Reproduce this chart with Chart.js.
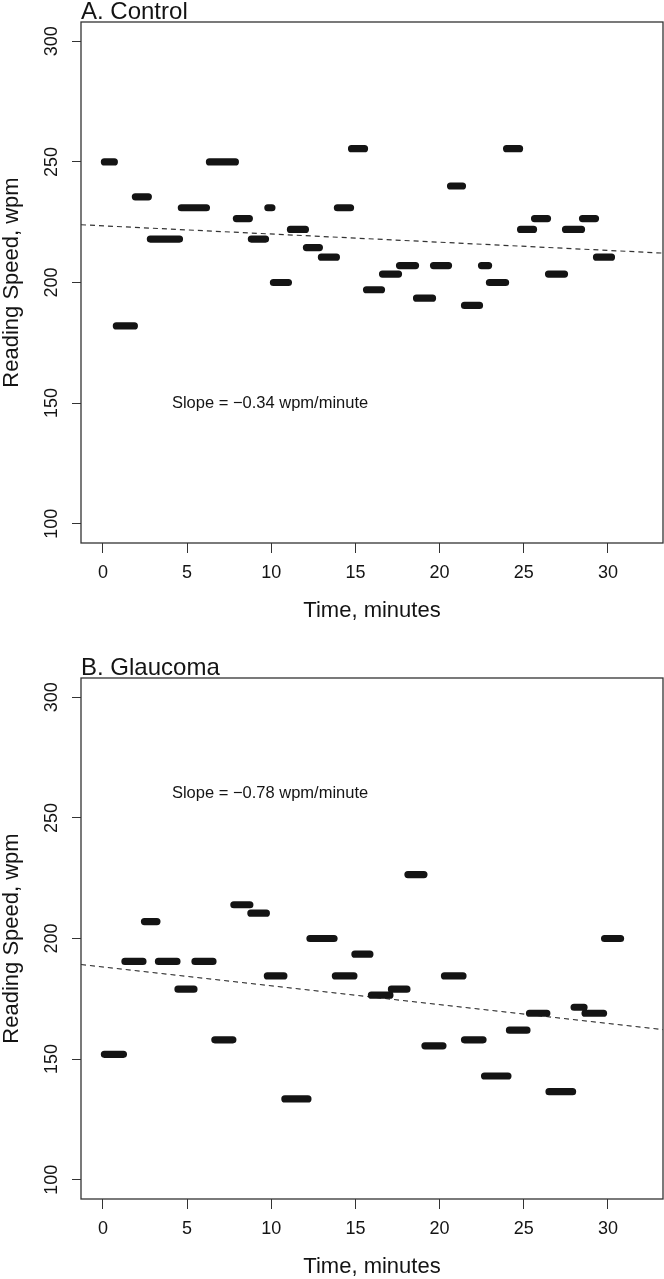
<!DOCTYPE html>
<html>
<head>
<meta charset="utf-8">
<title>Reading speed over time</title>
<script src="https://cdn.jsdelivr.net/npm/chart.js@4.4.1/dist/chart.umd.min.js"></script>
<style>
  body { margin: 0; background: #fff; }
  .panel { position: absolute; left: 0; width: 664px; height: 640px; }
  #panelA { top: 0; }
  #panelB { top: 639px; }
</style>
</head>
<body>
<div class="panel" id="panelA"><canvas id="chartA" width="664" height="640"></canvas></div>
<div class="panel" id="panelB"><canvas id="chartB" width="664" height="640"></canvas></div>
<script>
const FONT = "'Liberation Sans', Arial, Helvetica, sans-serif";
const INK = "#141414";

// axes
const X_TICKS = [0, 5, 10, 15, 20, 25, 30];
const Y_TICKS = [100, 150, 200, 250, 300];
const X_MIN = -1.3;
const X_MAX = 33.27;
const Y_MIN = 92;
const Y_MAX = 308;

// A. Control: one run per passage (start / end minute, wpm)
const ctrlStart = [0.09, 0.80, 1.93, 2.82, 4.66, 6.33, 7.93, 8.82, 9.80, 10.13, 11.14, 12.09, 12.98, 13.93, 14.77, 15.66, 16.61, 17.62, 18.63, 19.64, 20.65, 21.48, 22.49, 22.96, 23.98, 24.81, 25.64, 26.47, 27.48, 28.49, 29.32];
const ctrlEnd = [0.68, 1.87, 2.70, 4.55, 6.15, 7.87, 8.70, 9.66, 10.04, 11.02, 12.03, 12.86, 13.87, 14.71, 15.54, 16.55, 17.56, 18.57, 19.58, 20.53, 21.36, 22.37, 22.91, 23.92, 24.75, 25.58, 26.41, 27.42, 28.43, 29.26, 30.21];
const ctrlSpeed = [250, 182, 235.5, 218, 231, 250, 226.5, 218, 231, 200, 222, 214.5, 210.5, 231, 255.5, 197, 203.5, 207, 193.5, 207, 240, 190.5, 207, 200, 255.5, 222, 226.5, 203.5, 222, 226.5, 210.5];

// B. Glaucoma
const glauStart = [0.09, 1.31, 2.47, 3.30, 4.46, 5.47, 6.65, 7.78, 8.79, 9.77, 10.81, 12.30, 13.81, 14.97, 15.95, 17.14, 18.12, 19.13, 20.29, 21.48, 22.67, 24.15, 25.34, 26.50, 27.99, 28.64, 29.80];
const glauEnd = [1.22, 2.38, 3.21, 4.40, 5.41, 6.54, 7.72, 8.73, 9.71, 10.75, 12.18, 13.73, 14.91, 15.86, 17.05, 18.06, 19.07, 20.20, 21.39, 22.58, 24.06, 25.19, 26.37, 27.90, 28.58, 29.74, 30.75];
const glauSpeed = [152, 190.5, 207, 190.5, 179, 190.5, 158, 214, 210.5, 184.5, 133.5, 200, 184.5, 193.5, 176.5, 179, 226.5, 155.5, 184.5, 158, 143, 162, 169, 136.5, 171.5, 169, 200];

// regression lines (control, glaucoma)
const FIT_INTERCEPT = [223.5, 188.2];
const FIT_SLOPE = [-0.34, -0.78];

const PANEL_TITLES = ["A. Control", "B. Glaucoma"];
const SLOPE_TEXT = ["Slope = \u22120.34 wpm/minute", "Slope = \u22120.78 wpm/minute"];
const SLOPE_AT = [[4.1, 150], [4.1, 260]];

function segmentPoints(starts, ends, speeds) {
  const pts = [];
  speeds.forEach((v, i) => {
    // null y breaks the line between runs
    pts.push({ x: starts[i], y: v }, { x: ends[i], y: v }, { x: ends[i], y: null });
  });
  return pts;
}

function fitPoints(i) {
  return [X_MIN, X_MAX].map((x) => ({ x: x, y: FIT_INTERCEPT[i] + FIT_SLOPE[i] * x }));
}

// box round the plot, panel title and slope note
const frame = {
  id: "frame",
  afterDraw(chart, args, opts) {
    const { ctx, chartArea: a, scales } = chart;
    ctx.save();
    ctx.strokeStyle = "#333";
    ctx.lineWidth = 1.3;
    ctx.strokeRect(a.left, a.top, a.width, a.height);

    ctx.fillStyle = INK;
    ctx.textAlign = "left";
    ctx.textBaseline = "alphabetic";
    ctx.font = "24px " + FONT;
    ctx.fillText(opts.title, a.left, a.top - 3);

    ctx.textBaseline = "middle";
    ctx.font = "16.5px " + FONT;
    ctx.fillText(opts.note, scales.x.getPixelForValue(opts.at[0]), scales.y.getPixelForValue(opts.at[1]));
    ctx.restore();
  },
};

function makePanel(canvasId, i, starts, ends, speeds, topPad, xAxisHeight, xTitlePad) {
  const ctx = document.getElementById(canvasId);
  return new Chart(ctx, {
    type: "scatter",
    data: {
      datasets: [
        {
          data: segmentPoints(starts, ends, speeds),
          showLine: true,
          spanGaps: false,
          borderColor: INK,
          borderWidth: 7.2,
          borderCapStyle: "round",
          borderJoinStyle: "round",
          pointRadius: 0,
        },
        {
          data: fitPoints(i),
          showLine: true,
          borderColor: "#333",
          borderWidth: 1.2,
          borderDash: [5, 4],
          pointRadius: 0,
        },
      ],
    },
    options: {
      responsive: false,
      animation: false,
      layout: { padding: { top: topPad, right: 1, left: 0, bottom: 0 } },
      plugins: {
        legend: { display: false },
        tooltip: { enabled: false },
        frame: { title: PANEL_TITLES[i], note: SLOPE_TEXT[i], at: SLOPE_AT[i] },
      },
      scales: {
        x: {
          type: "linear",
          min: X_MIN,
          max: X_MAX,
          afterBuildTicks: (scale) => {
            scale.ticks = X_TICKS.map((v) => ({ value: v }));
          },
          afterFit: (scale) => {
            scale.height = xAxisHeight;
          },
          border: { display: false },
          grid: { drawOnChartArea: false, drawTicks: true, tickLength: 10, color: "#333", lineWidth: 1 },
          ticks: {
            autoSkip: false,
            maxRotation: 0,
            padding: 9,
            color: INK,
            font: { family: FONT, size: 18 },
            callback: (v) => String(v),
          },
          title: {
            display: true,
            text: "Time, minutes",
            color: INK,
            font: { family: FONT, size: 22, lineHeight: 1 },
            padding: { top: 0, bottom: xTitlePad },
          },
        },
        y: {
          type: "linear",
          min: Y_MIN,
          max: Y_MAX,
          afterBuildTicks: (scale) => {
            scale.ticks = Y_TICKS.map((v) => ({ value: v }));
          },
          afterFit: (scale) => {
            scale.width = 81;
          },
          border: { display: false },
          grid: { drawOnChartArea: false, drawTicks: true, tickLength: 9, color: "#333", lineWidth: 1 },
          ticks: {
            autoSkip: false,
            minRotation: 90,
            maxRotation: 90,
            crossAlign: "center",
            padding: 4.5,
            color: INK,
            font: { family: FONT, size: 18 },
            callback: (v) => String(v),
          },
          title: {
            display: true,
            text: "Reading Speed, wpm",
            color: INK,
            font: { family: FONT, size: 22, lineHeight: 1 },
            padding: { top: 1, bottom: 0 },
          },
        },
      },
    },
    plugins: [frame],
  });
}

makePanel("chartA", 0, ctrlStart, ctrlEnd, ctrlSpeed, 22, 97, 18);
makePanel("chartB", 1, glauStart, glauEnd, glauSpeed, 39, 80, 1);
</script>
</body>
</html>
